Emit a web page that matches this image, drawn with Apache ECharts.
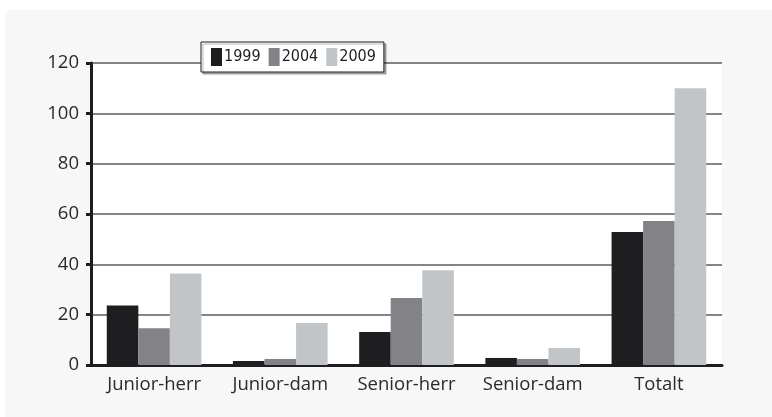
<!DOCTYPE html>
<html>
<head>
<meta charset="utf-8">
<script src="https://cdn.jsdelivr.net/npm/echarts@6/dist/echarts.min.js"></script>
<style>
  html, body { margin: 0; padding: 0; background: #ffffff; }
  #chart { width: 772px; height: 417px; }
</style>
</head>
<body>
<div id="chart"></div>
<script>
const categories = ['Junior-herr', 'Junior-dam', 'Senior-herr', 'Senior-dam', 'Totalt']
const years = ['1999', '2004', '2009']
const values1999 = [23.6, 1.6, 13.1, 2.8, 52.8]
const values2004 = [14.6, 2.4, 26.6, 2.4, 57.2]
const values2009 = [36.4, 16.7, 37.6, 6.8, 110.0]
const yTicks = [0, 20, 40, 60, 80, 100, 120]

const colors = ['#1e1e21', '#838286', '#c2c5c8']
const fontFamily = '"Open Sans", "Noto Sans", sans-serif'
const legendFont = '"Liberation Sans Narrow", "DejaVu Sans Condensed", sans-serif'

const chart = echarts.init(document.getElementById('chart'))

const makeSeries = (name, data, color) => ({
  name: name,
  type: 'bar',
  data: data,
  barGap: '0%',
  barCategoryGap: '25%',
  itemStyle: { color: color },
  z: 3
})

const option = {
  animation: false,
  backgroundColor: '#ffffff',
  textStyle: { fontFamily: fontFamily },
  graphic: [
    {
      type: 'rect',
      z: -10,
      silent: true,
      shape: { x: 5, y: 10, width: 790, height: 430, r: 6 },
      style: { fill: '#f7f7f7' }
    }
  ],
  legend: {
    left: 201,
    top: 42,
    padding: [6, 8, 6, 10],
    icon: 'rect',
    itemWidth: 11,
    itemHeight: 18,
    itemGap: 8,
    backgroundColor: '#ffffff',
    borderColor: '#1e1e21',
    borderWidth: 1,
    borderRadius: 0,
    shadowColor: 'rgba(0,0,0,0.3)',
    shadowOffsetX: 2,
    shadowOffsetY: 2,
    shadowBlur: 1,
    textStyle: { fontFamily: legendFont, fontSize: 16, color: '#1e1e21', padding: [0, 0, 0, -3] },
    data: years
  },
  grid: {
    left: 91,
    right: 50,
    top: 63,
    bottom: 52,
    show: true,
    backgroundColor: '#ffffff',
    borderWidth: 0
  },
  xAxis: {
    type: 'category',
    data: categories,
    axisLine: { lineStyle: { color: '#1e1e21', width: 3 } },
    axisTick: { show: false },
    axisLabel: { interval: 0, fontSize: 18.5, color: '#2a2a2a', margin: 10 }
  },
  yAxis: {
    type: 'value',
    min: 0,
    max: 120,
    interval: 20,
    axisLine: { show: true, lineStyle: { color: '#1e1e21', width: 3 } },
    axisTick: { show: true, length: 5, lineStyle: { color: '#1e1e21', width: 3 } },
    axisLabel: {
      fontSize: 18.5,
      color: '#2a2a2a',
      margin: 12,
      formatter: v => yTicks.includes(v) ? String(v) : ''
    },
    splitLine: { lineStyle: { color: '#858585', width: 2 } }
  },
  series: [
    makeSeries(years[0], values1999, colors[0]),
    makeSeries(years[1], values2004, colors[1]),
    makeSeries(years[2], values2009, colors[2])
  ]
}

chart.setOption(option)
</script>
</body>
</html>
